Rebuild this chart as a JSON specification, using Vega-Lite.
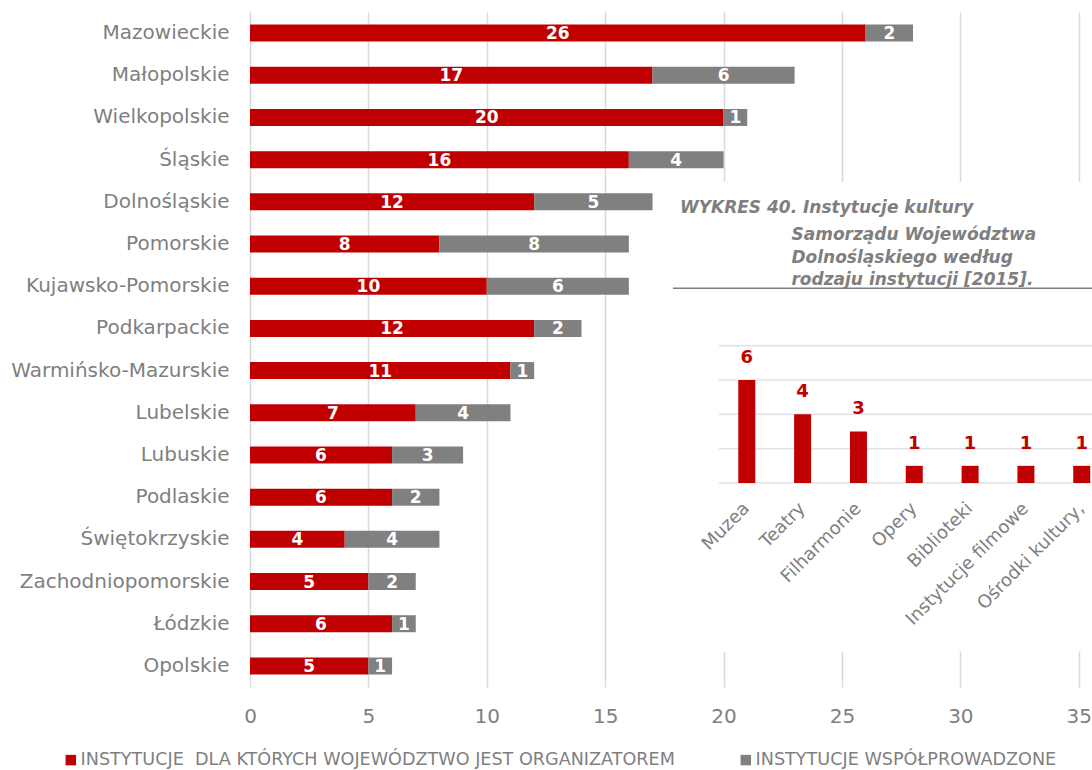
{
  "$schema": "https://vega.github.io/schema/vega-lite/v6.json",
  "autosize": {"type": "none"},
  "padding": {"left": 250, "top": 12, "right": 0, "bottom": 83},
  "width": 842,
  "height": 675,
  "background": "white",
  "config": {"font": "DejaVu Sans", "view": {"stroke": null}},
  "datasets": {
    "woj": [
      {"woj": "Mazowieckie", "typ": "INSTYTUCJE  DLA KTÓRYCH WOJEWÓDZTWO JEST ORGANIZATOREM", "n": 26},
      {"woj": "Mazowieckie", "typ": "INSTYTUCJE WSPÓŁPROWADZONE", "n": 2},
      {"woj": "Małopolskie", "typ": "INSTYTUCJE  DLA KTÓRYCH WOJEWÓDZTWO JEST ORGANIZATOREM", "n": 17},
      {"woj": "Małopolskie", "typ": "INSTYTUCJE WSPÓŁPROWADZONE", "n": 6},
      {"woj": "Wielkopolskie", "typ": "INSTYTUCJE  DLA KTÓRYCH WOJEWÓDZTWO JEST ORGANIZATOREM", "n": 20},
      {"woj": "Wielkopolskie", "typ": "INSTYTUCJE WSPÓŁPROWADZONE", "n": 1},
      {"woj": "Śląskie", "typ": "INSTYTUCJE  DLA KTÓRYCH WOJEWÓDZTWO JEST ORGANIZATOREM", "n": 16},
      {"woj": "Śląskie", "typ": "INSTYTUCJE WSPÓŁPROWADZONE", "n": 4},
      {"woj": "Dolnośląskie", "typ": "INSTYTUCJE  DLA KTÓRYCH WOJEWÓDZTWO JEST ORGANIZATOREM", "n": 12},
      {"woj": "Dolnośląskie", "typ": "INSTYTUCJE WSPÓŁPROWADZONE", "n": 5},
      {"woj": "Pomorskie", "typ": "INSTYTUCJE  DLA KTÓRYCH WOJEWÓDZTWO JEST ORGANIZATOREM", "n": 8},
      {"woj": "Pomorskie", "typ": "INSTYTUCJE WSPÓŁPROWADZONE", "n": 8},
      {"woj": "Kujawsko-Pomorskie", "typ": "INSTYTUCJE  DLA KTÓRYCH WOJEWÓDZTWO JEST ORGANIZATOREM", "n": 10},
      {"woj": "Kujawsko-Pomorskie", "typ": "INSTYTUCJE WSPÓŁPROWADZONE", "n": 6},
      {"woj": "Podkarpackie", "typ": "INSTYTUCJE  DLA KTÓRYCH WOJEWÓDZTWO JEST ORGANIZATOREM", "n": 12},
      {"woj": "Podkarpackie", "typ": "INSTYTUCJE WSPÓŁPROWADZONE", "n": 2},
      {"woj": "Warmińsko-Mazurskie", "typ": "INSTYTUCJE  DLA KTÓRYCH WOJEWÓDZTWO JEST ORGANIZATOREM", "n": 11},
      {"woj": "Warmińsko-Mazurskie", "typ": "INSTYTUCJE WSPÓŁPROWADZONE", "n": 1},
      {"woj": "Lubelskie", "typ": "INSTYTUCJE  DLA KTÓRYCH WOJEWÓDZTWO JEST ORGANIZATOREM", "n": 7},
      {"woj": "Lubelskie", "typ": "INSTYTUCJE WSPÓŁPROWADZONE", "n": 4},
      {"woj": "Lubuskie", "typ": "INSTYTUCJE  DLA KTÓRYCH WOJEWÓDZTWO JEST ORGANIZATOREM", "n": 6},
      {"woj": "Lubuskie", "typ": "INSTYTUCJE WSPÓŁPROWADZONE", "n": 3},
      {"woj": "Podlaskie", "typ": "INSTYTUCJE  DLA KTÓRYCH WOJEWÓDZTWO JEST ORGANIZATOREM", "n": 6},
      {"woj": "Podlaskie", "typ": "INSTYTUCJE WSPÓŁPROWADZONE", "n": 2},
      {"woj": "Świętokrzyskie", "typ": "INSTYTUCJE  DLA KTÓRYCH WOJEWÓDZTWO JEST ORGANIZATOREM", "n": 4},
      {"woj": "Świętokrzyskie", "typ": "INSTYTUCJE WSPÓŁPROWADZONE", "n": 4},
      {"woj": "Zachodniopomorskie", "typ": "INSTYTUCJE  DLA KTÓRYCH WOJEWÓDZTWO JEST ORGANIZATOREM", "n": 5},
      {"woj": "Zachodniopomorskie", "typ": "INSTYTUCJE WSPÓŁPROWADZONE", "n": 2},
      {"woj": "Łódzkie", "typ": "INSTYTUCJE  DLA KTÓRYCH WOJEWÓDZTWO JEST ORGANIZATOREM", "n": 6},
      {"woj": "Łódzkie", "typ": "INSTYTUCJE WSPÓŁPROWADZONE", "n": 1},
      {"woj": "Opolskie", "typ": "INSTYTUCJE  DLA KTÓRYCH WOJEWÓDZTWO JEST ORGANIZATOREM", "n": 5},
      {"woj": "Opolskie", "typ": "INSTYTUCJE WSPÓŁPROWADZONE", "n": 1}
    ],
    "inst": [
      {"i": 0, "rodzaj": "Muzea", "n": 6},
      {"i": 1, "rodzaj": "Teatry", "n": 4},
      {"i": 2, "rodzaj": "Filharmonie", "n": 3},
      {"i": 3, "rodzaj": "Opery", "n": 1},
      {"i": 4, "rodzaj": "Biblioteki", "n": 1},
      {"i": 5, "rodzaj": "Instytucje filmowe", "n": 1},
      {"i": 6, "rodzaj": "Ośrodki kultury,", "n": 1}
    ],
    "siatka": [{"g": 0}, {"g": 2}, {"g": 4}, {"g": 6}, {"g": 8}],
    "tytul": [{"t": "WYKRES 40. Instytucje kultury"}],
    "tytul2": [{"t": ["Samorządu Województwa", "Dolnośląskiego według", "rodzaju instytucji [2015]."]}],
    "tlo": [{"k": 1}]
  },
  "layer": [
    {
      "data": {"name": "woj"},
      "layer": [
        {
          "mark": {"type": "bar", "size": 17},
          "encoding": {
            "y": {"field": "woj", "type": "nominal", "sort": null,
                  "scale": {"paddingInner": 0, "paddingOuter": 0},
                  "axis": {"title": null, "domain": false, "ticks": false, "tickSize": 0, "labelPadding": 21, "labelFontSize": 20, "labelColor": "#7f7f7f", "labelLimit": 300}},
            "x": {"field": "n", "type": "quantitative", "stack": "zero",
                  "scale": {"domain": [0, 35.56], "nice": false},
                  "axis": {"title": null, "values": [0, 5, 10, 15, 20, 25, 30, 35], "grid": true, "gridColor": "#d9d9d9", "gridWidth": 1.5, "domain": false, "ticks": false, "tickSize": 0, "labelPadding": 19, "labelFontSize": 20, "labelColor": "#7f7f7f", "labelFlush": false}},
            "color": {"field": "typ", "type": "nominal",
                      "scale": {"domain": ["INSTYTUCJE  DLA KTÓRYCH WOJEWÓDZTWO JEST ORGANIZATOREM", "INSTYTUCJE WSPÓŁPROWADZONE"], "range": ["#c00000", "#808080"]},
                      "legend": {"title": null, "orient": "none", "legendX": -188, "legendY": 739, "direction": "horizontal", "symbolType": "square", "symbolSize": 110, "symbolStrokeWidth": 0, "labelFontSize": 17.6, "labelColor": "#7f7f7f", "labelOffset": 1, "columnPadding": 62, "labelLimit": 1000, "padding": 0, "labelExpr": "replace(datum.label, '  ', ' \u00a0')"}},
            "order": {"field": "typ", "type": "nominal", "sort": "ascending"}
          }
        },
        {
          "mark": {"type": "text", "color": "white", "fontWeight": "bold", "fontSize": 17, "baseline": "middle", "dy": 1},
          "encoding": {
            "y": {"field": "woj", "type": "nominal", "sort": null},
            "x": {"field": "n", "type": "quantitative", "stack": "zero", "bandPosition": 0.5},
            "detail": {"field": "typ", "type": "nominal"},
            "order": {"field": "typ", "type": "nominal", "sort": "ascending"},
            "text": {"field": "n", "type": "quantitative"}
          }
        }
      ]
    },
    {
      "layer": [
        {
          "data": {"name": "tlo"},
          "mark": {"type": "rect", "color": "white"},
          "encoding": {
            "x": {"datum": -1.45, "type": "quantitative", "scale": {"domain": [-8.809, 6.094], "nice": false, "zero": false}, "axis": null},
            "x2": {"datum": 7},
            "y": {"datum": 17.55, "type": "quantitative", "scale": {"domain": [-11.88, 27.43], "nice": false, "zero": false}, "axis": null},
            "y2": {"datum": -9.83}
          }
        },
        {
          "data": {"name": "tlo"},
          "mark": {"type": "rule", "color": "#808080", "strokeWidth": 1.5},
          "encoding": {
            "x": {"datum": -1.322, "type": "quantitative", "scale": {"domain": [-8.809, 6.094], "nice": false, "zero": false}, "axis": null},
            "x2": {"datum": 7},
            "y": {"datum": 11.34, "type": "quantitative", "scale": {"domain": [-11.88, 27.43], "nice": false, "zero": false}, "axis": null}
          }
        },
        {
          "data": {"name": "siatka"},
          "mark": {"type": "rule", "color": "#dfe2e7", "strokeWidth": 1.5},
          "encoding": {
            "x": {"datum": -0.5, "type": "quantitative", "scale": {"domain": [-8.809, 6.094], "nice": false, "zero": false}, "axis": null},
            "x2": {"datum": 7},
            "y": {"field": "g", "type": "quantitative", "scale": {"domain": [-11.88, 27.43], "nice": false, "zero": false}, "axis": null}
          }
        },
        {
          "data": {"name": "inst"},
          "mark": {"type": "bar", "size": 17, "color": "#c00000"},
          "encoding": {
            "x": {"field": "i", "type": "quantitative", "scale": {"domain": [-8.809, 6.094], "nice": false, "zero": false}, "axis": null},
            "y": {"field": "n", "type": "quantitative", "scale": {"domain": [-11.88, 27.43], "nice": false, "zero": false}, "axis": null}
          }
        },
        {
          "data": {"name": "inst"},
          "mark": {"type": "text", "color": "#c00000", "fontWeight": "bold", "fontSize": 18, "baseline": "alphabetic", "align": "center", "dy": -17},
          "encoding": {
            "x": {"field": "i", "type": "quantitative", "scale": {"domain": [-8.809, 6.094], "nice": false, "zero": false}, "axis": null},
            "y": {"field": "n", "type": "quantitative", "scale": {"domain": [-11.88, 27.43], "nice": false, "zero": false}, "axis": null},
            "text": {"field": "n", "type": "quantitative"}
          }
        },
        {
          "data": {"name": "inst"},
          "mark": {"type": "text", "color": "#7f7f7f", "fontSize": 18, "angle": -45, "align": "right", "baseline": "middle"},
          "encoding": {
            "x": {"field": "i", "type": "quantitative", "scale": {"domain": [-8.809, 6.094], "nice": false, "zero": false}, "axis": null},
            "y": {"datum": -1.34, "type": "quantitative", "scale": {"domain": [-11.88, 27.43], "nice": false, "zero": false}, "axis": null},
            "text": {"field": "rodzaj", "type": "nominal"}
          }
        },
        {
          "data": {"name": "tytul"},
          "mark": {"type": "text", "color": "#7f7f7f", "fontSize": 17, "fontWeight": "bold", "fontStyle": "italic", "align": "left", "baseline": "alphabetic"},
          "encoding": {
            "x": {"datum": -1.198, "type": "quantitative", "scale": {"domain": [-8.809, 6.094], "nice": false, "zero": false}, "axis": null},
            "y": {"datum": 15.72, "type": "quantitative", "scale": {"domain": [-11.88, 27.43], "nice": false, "zero": false}, "axis": null},
            "text": {"field": "t", "type": "nominal"}
          }
        },
        {
          "data": {"name": "tytul2"},
          "mark": {"type": "text", "color": "#7f7f7f", "fontSize": 17, "fontWeight": "bold", "fontStyle": "italic", "align": "left", "baseline": "alphabetic", "lineHeight": 22.5},
          "encoding": {
            "x": {"datum": 0.8, "type": "quantitative", "scale": {"domain": [-8.809, 6.094], "nice": false, "zero": false}, "axis": null},
            "y": {"datum": 14.15, "type": "quantitative", "scale": {"domain": [-11.88, 27.43], "nice": false, "zero": false}, "axis": null},
            "text": {"field": "t", "type": "nominal"}
          }
        }
      ]
    }
  ],
  "resolve": {"scale": {"x": "independent", "y": "independent"}}
}
